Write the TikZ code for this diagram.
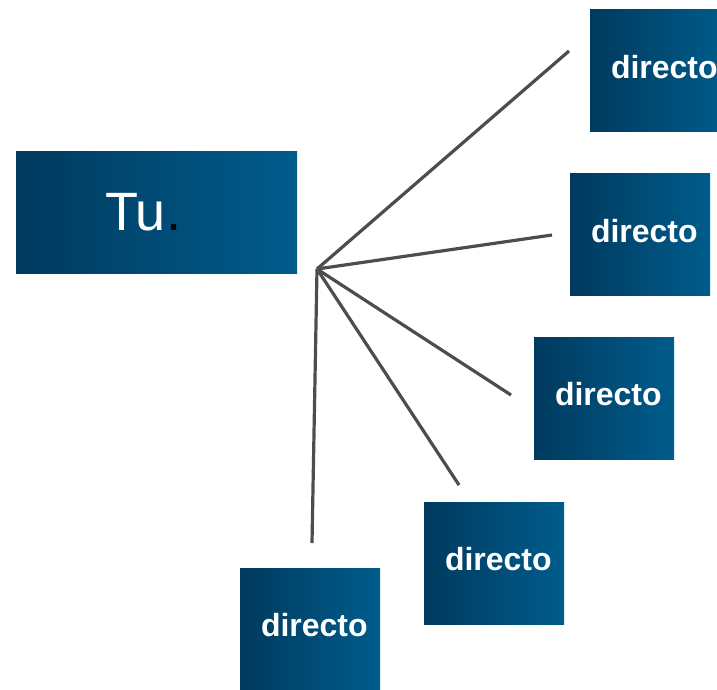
\documentclass[tikz,border=0pt]{standalone}
\usepackage{xcolor}
\usepackage{fontspec}
\setmainfont{Liberation Sans}
\usepackage{tikz}
\usetikzlibrary{positioning}
\definecolor{boxdark}{RGB}{0, 58, 94}
\definecolor{boxlight}{RGB}{0, 92, 140}
\definecolor{spokegray}{RGB}{77, 77, 77}

\begin{document}
\begin{tikzpicture}[
			x=1pt, y=-1pt,
			hubbox/.style={rectangle, left color=boxdark, right color=boxlight, minimum width=281pt, minimum height=122pt, inner sep=0pt},
			leafbox/.style={rectangle, left color=boxdark, right color=boxlight, minimum width=140pt, minimum height=122pt, inner sep=0pt},
			hubtext/.style={font=\fontsize{54}{60}\selectfont, text=white, inner sep=0pt},
			leaftext/.style={font=\fontsize{32}{36}\selectfont\bfseries, text=white, inner sep=0pt, yshift=3.5pt},
			spoke/.style={draw=spokegray, line width=3.2pt}
		]
		\useasboundingbox (0,0) rectangle (717,689);
		
		% Main box
		\node[hubbox] (tu) at (156.5,212) {};
		\node[hubtext, right=89pt of tu.west] (tutxt) {Tu\textcolor{black}{.}};
		
		% Leaf boxes
		\node[leafbox] (d1) at (660,70.5) {};
		\node[leaftext, right=21pt of d1.west] {directo};
		\node[leafbox] (d2) at (640,234.5) {};
		\node[leaftext, right=21pt of d2.west] {directo};
		\node[leafbox] (d3) at (604,398) {};
		\node[leaftext, right=21pt of d3.west] {directo};
		\node[leafbox] (d4) at (494,563) {};
		\node[leaftext, right=21pt of d4.west] {directo};
		\node[leafbox] (d5) at (310,629) {};
		\node[leaftext, right=21pt of d5.west] {directo};
		
		% Spokes
		\coordinate (hub) at (317,269);
		\coordinate (e1) at (569,51);
		\coordinate (e2) at (552,235);
		\coordinate (e3) at (511,395);
		\coordinate (e4) at (459,485);
		\coordinate (e5) at (312,543);
		\foreach \e in {e1,e2,e3,e4,e5}
			\draw[spoke] (hub) -- (\e);
		\end{tikzpicture}
\end{document}
